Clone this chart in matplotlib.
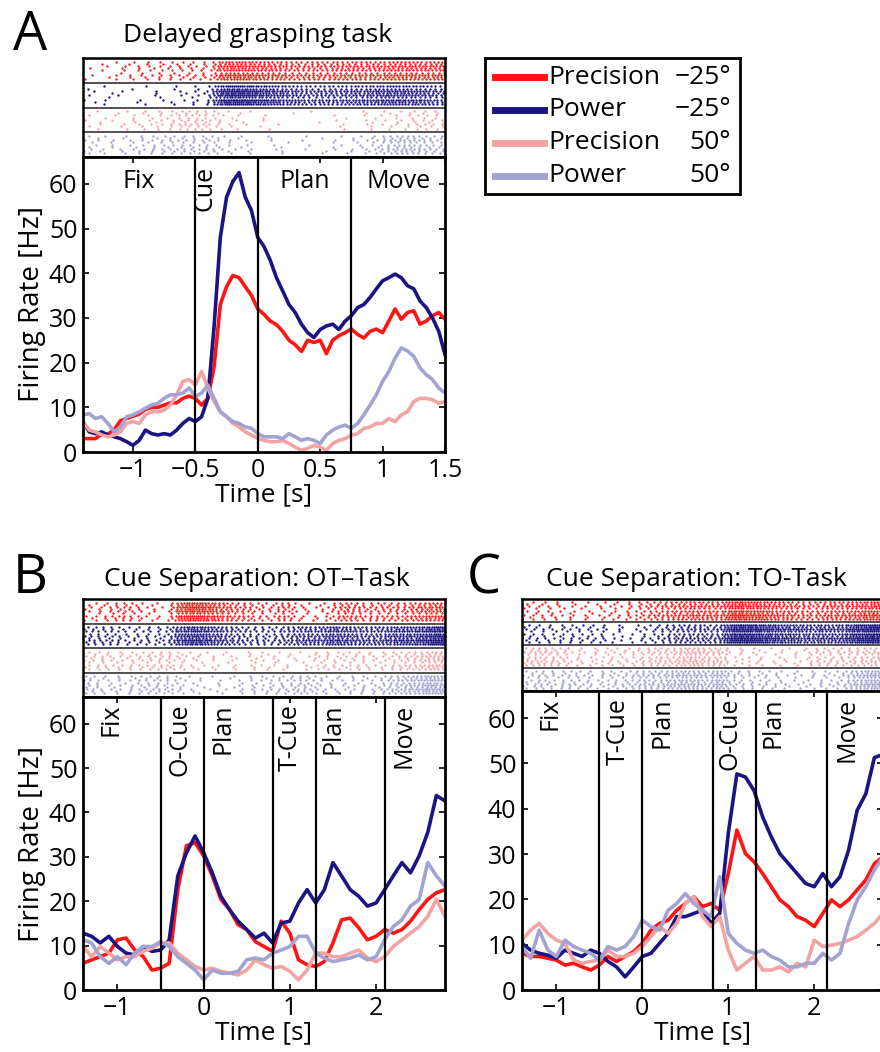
import numpy as np
import matplotlib
matplotlib.use('Agg')
import matplotlib.pyplot as plt
from matplotlib.lines import Line2D

plt.rcParams['font.family'] = ['Open Sans', 'DejaVu Sans']
plt.rcParams['axes.unicode_minus'] = True

# conditions
names = ['Precision', 'Power', 'Precision', 'Power']
angles = ['\u221225\u00b0', '\u221225\u00b0', '50\u00b0', '50\u00b0']
colours = ['#ff1414', '#1c1482', '#f4a3a3', '#a3a3d2']

# ---- panel A: delayed grasping task (samples every 50 ms)
t_a = np.round(np.arange(-1.4, 1.501, 0.05), 2)
prec_m25_a = [3, 3, 3, 4, 4, 5, 7, 7.5, 8, 8.5, 9.5, 10, 10, 10.5, 11, 11, 12, 12.5, 12, 10.5,
              12, 19, 33, 37, 39.5, 39, 37, 35, 32,
              30.8, 29.3, 28.5, 27, 25, 24, 22.5, 25, 24.5, 25, 22, 25, 26, 26.7, 27.5, 26.3,
              25.5, 27, 27.5, 26.7, 29.3, 32, 29.7, 31.2, 31.6, 28.6, 29.3, 30.5, 31.2, 29.7]
pow_m25_a = [6.8, 4.5, 4.1, 4.5, 3.8, 3.4, 3, 2.3, 1.5, 2.6, 4.9, 4.1, 3.8, 4.1, 3.8, 4.9, 6.4,
             7.5, 6.8, 7.9, 12, 28, 48, 57, 60.5, 62.5, 57, 54, 48,
             46, 42.9, 39, 36, 33, 31.2, 28.6, 26.7, 25.6, 27.4, 28.2, 28.6, 27.4, 29.3, 30.5,
             32.3, 33, 34.6, 36.5, 38.3, 39, 39.8, 39, 37.2, 36.5, 33.8, 32.3, 30, 27, 21.8]
prec_50_a = [6.8, 4.9, 4.5, 3.8, 3.4, 3.8, 4.5, 6.4, 6.8, 6.4, 8.3, 9, 9, 9.4, 10.5, 12.8, 15.8,
             16.2, 15, 18, 14.3, 11.3, 9, 7.9, 6.4, 5.6, 4.5, 3.8, 3,
             2.6, 2.3, 2.3, 2.6, 1.9, 1.1, 0.4, 0.8, 1.5, 1.1, 0.4, 1.9, 2.6, 3, 3.8, 4.1, 5.3,
             5.6, 6.4, 6.4, 7.5, 6.8, 8.3, 9, 11.3, 12, 12, 11.7, 10.9, 11.3]
pow_50_a = [8.3, 8.6, 7.5, 7.9, 6.4, 4.5, 5.6, 7.9, 8.3, 9, 9.8, 10.5, 10.9, 12, 12.8, 12.8, 13.2,
            14.3, 12.4, 13.2, 15, 12, 9, 7.9, 6.8, 6.4, 5.6, 5.3, 4.1,
            3.4, 3.4, 3.4, 3, 4.1, 3.4, 2.6, 3, 2.6, 1.9, 3.8, 4.9, 5.6, 6, 5.3, 6.4, 8.3, 10.5,
            12.8, 15.8, 18, 21, 23.3, 22.6, 21.4, 18.8, 17.3, 16.2, 14.3, 13.2]
events_a = [-0.5, 0, 0.75]
xticks_a = [-1, -0.5, 0, 0.5, 1, 1.5]

# ---- panels B and C: cue separation tasks (samples every 100 ms)
t_bc = np.round(np.arange(-1.4, 2.801, 0.1), 2)
prec_m25_b = [6, 6.8, 7.5, 8.3, 11.3, 11.7, 9, 7.5, 4.5, 4.9, 6, 22.6, 32.5, 33.2, 30.2, 25.7,
              20.4, 18.1, 14.7, 13.6, 10.9, 9.8, 8.7, 15.5, 12.8, 6.8, 5.7, 5.3, 6.4, 10.6, 15.8,
              16.2, 14, 11.3, 12.1, 13.6, 12.8, 13.6, 15.5, 18.1, 20.4, 21.9, 22.6]
pow_m25_b = [12.8, 12.1, 10.6, 12.1, 9.8, 8.3, 7.9, 9.8, 8.7, 9, 11.3, 25.7, 30.9, 34.7, 30.9,
             26.4, 21.1, 18.1, 15.5, 13.6, 11.7, 12.8, 10.6, 15.1, 15.5, 19.6, 22.6, 19.6, 22.6,
             28.7, 25.7, 22.6, 21.1, 18.9, 19.6, 22.6, 25.7, 28.7, 26.4, 30.2, 35.5, 43.8, 42.6]
prec_50_b = [9.8, 7.5, 9.8, 8.3, 6.8, 7.5, 7.5, 8.7, 9.4, 10.6, 10.6, 8.3, 6.8, 5.3, 4.5, 4.9,
             4.2, 3.8, 3.4, 4.5, 6.8, 5.7, 4.9, 5.3, 4.2, 2.3, 4.5, 8.3, 8.3, 7.5, 7.5, 8.3, 9,
             7.2, 6.4, 7.5, 9.8, 11.3, 12.8, 14.3, 16.6, 20.4, 16.6]
pow_50_b = [11.3, 10.6, 7.5, 6, 7.5, 5.7, 8.3, 9.8, 9.8, 10.9, 9.8, 7.5, 6, 4.5, 2.3, 4.5, 3.8,
            3.8, 4.2, 6.8, 7.2, 6.8, 8.3, 9, 9.8, 12.1, 12.1, 8.3, 7.2, 6.4, 6.8, 7.2, 7.9, 6.8,
            7.5, 11.3, 14.3, 15.8, 18.9, 20.4, 28.7, 25.7, 23.4]
events_b = [-0.5, 0, 0.8, 1.3, 2.1]

prec_m25_c = [8.1, 7.4, 7.4, 7, 6.6, 5.5, 5.9, 5.1, 4.4, 5.5, 7.4, 6.3, 7.4, 8.5, 10.3, 13.2,
              14.7, 15.4, 17.6, 19.1, 20.6, 18.4, 19.1, 17.6, 25.7, 35.3, 30.1, 28.3, 25.7, 22.8,
              19.9, 18.4, 16.2, 15.4, 14, 16.9, 19.9, 18.4, 19.9, 22.1, 24.3, 27.9, 29.4]
pow_m25_c = [10.3, 8.8, 8.1, 7.7, 7, 8.8, 8.1, 7.4, 8.8, 8.1, 6.3, 5.1, 2.9, 5.1, 7.4, 8.1, 10.3,
             12.5, 16.2, 16.2, 16.9, 17.6, 14.7, 16.9, 34.6, 47.7, 47, 44, 38.2, 33.8, 30.1, 27.9,
             25.7, 23.5, 22.8, 25.7, 22.8, 25, 30.9, 39.7, 43.3, 51.3, 52]
prec_50_c = [11, 13.2, 14.7, 12.5, 11, 10.3, 6.6, 5.9, 6.3, 6.6, 8.8, 7.4, 7.4, 8.1, 9.6, 11.8,
             14, 12.5, 14.7, 19.1, 20.6, 16.2, 14, 16.2, 8.8, 4.4, 5.9, 7.4, 4.4, 4.4, 5.1, 4, 5.9,
             5.1, 11, 9.6, 9.9, 10.3, 11, 11.8, 13.2, 14.7, 16.9]
pow_50_c = [9.6, 7, 13.2, 8.8, 7.4, 11, 9.6, 8.8, 8.1, 6.6, 9.6, 8.8, 9.6, 11.8, 15.4, 14, 13.2,
            17.6, 19.1, 21.3, 19.1, 17.6, 16.2, 25, 12.5, 10.3, 8.8, 8.1, 8.8, 7.4, 6.6, 5.1, 5.1,
            5.9, 5.9, 8.1, 6.6, 8.1, 14.7, 19.9, 22.8, 26.5, 29.4]
events_c = [-0.5, 0, 0.82, 1.32, 2.15]
xticks_bc = [-1, 0, 1, 2]

FS = 18
LW = 2.6

# spike rasters are derived from each rate curve (integrate-and-fire, fixed trial phases)
trial_gain = [1.0, 0.8, 1.2, 0.9, 1.1, 0.75, 1.3, 0.95, 1.05]


def raster(ax, t, rates):
    tt = np.arange(t[0], t[-1], 0.001)
    n = len(trial_gain)
    for k, (r, col) in enumerate(zip(rates, colours)):
        rr = np.interp(tt, t, r)
        for j, g in enumerate(trial_gain):
            cum = np.cumsum(rr * g) * 0.001 + (j * 0.618 + 0.2 * k) % 1
            idx = np.nonzero(np.diff(np.floor(cum)) > 0)[0]
            ax.plot(tt[idx], np.full(len(idx), k + 0.1 + 0.8 * (j + 0.5) / n), '.',
                    color=col, ms=3.4, mew=0)
    for k in range(1, 4):
        ax.axhline(k, color='#222222', lw=1.1)
    ax.set_xlim(t[0], t[-1])
    ax.set_ylim(4, 0)
    ax.set_xticks([])
    ax.set_yticks([])
    for s in ax.spines.values():
        s.set_linewidth(1.8)


def rates_panel(ax, t, rates, events, xticks, xlim):
    for r, col in zip(rates, colours):
        ax.plot(t, r, color=col, lw=LW)
    for e in events:
        ax.axvline(e, color='black', lw=1.6, zorder=5)
    ax.set_xlim(*xlim)
    ax.set_ylim(0, 66)
    ax.set_yticks([0, 10, 20, 30, 40, 50, 60])
    ax.set_xticks(xticks)
    ax.tick_params(direction='in', length=4, width=1.2, labelsize=FS, top=True, right=True,
                   pad=4)
    for s in ax.spines.values():
        s.set_linewidth(2.0)
    ax.set_xlabel('Time [s]', fontsize=FS + 1, labelpad=0)


fig = plt.figure(figsize=(8.8, 10.52), dpi=100)
W, H = 880.0, 1052.0


def box(x0, x1, ytop, ybot):
    return [x0 / W, 1 - ybot / H, (x1 - x0) / W, (ybot - ytop) / H]


# panel A
axr_a = fig.add_axes(box(83, 445, 58, 157))
ax_a = fig.add_axes(box(83, 445, 157, 452))
raster(axr_a, t_a, [prec_m25_a, pow_m25_a, prec_50_a, pow_50_a])
rates_panel(ax_a, t_a, [prec_m25_a, pow_m25_a, prec_50_a, pow_50_a], events_a, xticks_a,
            (-1.4, 1.5))
ax_a.set_xticklabels(['\u22121', '\u22120.5', '0', '0.5', '1', '1.5'])
ax_a.set_ylabel('Firing Rate [Hz]', fontsize=FS + 2, labelpad=2)
for lab, x in zip(['Fix', 'Plan', 'Move'], [-0.95, 0.375, 1.125]):
    ax_a.text(x, 59, lab, fontsize=FS, ha='center', va='baseline')
ax_a.text(-0.42, 64, 'Cue', fontsize=FS, ha='center', va='top', rotation=90)

# panel B
axr_b = fig.add_axes(box(83, 445, 599, 697))
ax_b = fig.add_axes(box(83, 445, 697, 990))
raster(axr_b, t_bc, [prec_m25_b, pow_m25_b, prec_50_b, pow_50_b])
rates_panel(ax_b, t_bc, [prec_m25_b, pow_m25_b, prec_50_b, pow_50_b], events_b, xticks_bc,
            (-1.4, 2.8))
ax_b.set_ylabel('Firing Rate [Hz]', fontsize=FS + 2, labelpad=2)
for lab, x in zip(['Fix', 'O-Cue', 'Plan', 'T-Cue', 'Plan', 'Move'],
                  [-1.08, -0.28, 0.23, 1.0, 1.5, 2.33]):
    ax_b.text(x, 64.5, lab, fontsize=FS, ha='center', va='top', rotation=90)

# panel C (cut at the right border like the original)
axr_c = fig.add_axes(box(522, 883, 599, 691))
ax_c = fig.add_axes(box(522, 883, 691, 990))
raster(axr_c, t_bc, [prec_m25_c, pow_m25_c, prec_50_c, pow_50_c])
rates_panel(ax_c, t_bc, [prec_m25_c, pow_m25_c, prec_50_c, pow_50_c], events_c, xticks_bc,
            (-1.4, 2.8))
for lab, x in zip(['Fix', 'T-Cue', 'Plan', 'O-Cue', 'Plan', 'Move'],
                  [-1.07, -0.28, 0.23, 1.02, 1.52, 2.38]):
    ax_c.text(x, 64.5, lab, fontsize=FS, ha='center', va='top', rotation=90)

# titles and panel letters
fig.text(258 / W, 1 - 42 / H, 'Delayed grasping task', fontsize=FS + 1, ha='center',
         va='baseline')
fig.text(257 / W, 1 - 586 / H, 'Cue Separation: OT\u2013Task', fontsize=FS + 1, ha='center',
         va='baseline')
fig.text(696 / W, 1 - 586 / H, 'Cue Separation: TO-Task', fontsize=FS + 1, ha='center',
         va='baseline')
for letter, x, y in [('A', 13, 50), ('B', 13, 593), ('C', 467, 593)]:
    fig.text(x / W, 1 - y / H, letter, fontsize=39, ha='left', va='baseline')

# legend
axl = fig.add_axes(box(485, 740, 58, 194))
axl.set_xlim(0, 1)
axl.set_ylim(0, 1)
axl.set_xticks([])
axl.set_yticks([])
for s in axl.spines.values():
    s.set_linewidth(2.0)
for i, (nm, ang, col) in enumerate(zip(names, angles, colours)):
    y = 0.86 - i * 0.242
    axl.add_line(Line2D([0.04, 0.23], [y, y], color=col, lw=5))
    axl.text(0.25, y, nm, fontsize=FS + 1, va='center', ha='left')
    axl.text(0.965, y, ang, fontsize=FS + 1, va='center', ha='right')

fig.savefig('out.png', dpi=100)
